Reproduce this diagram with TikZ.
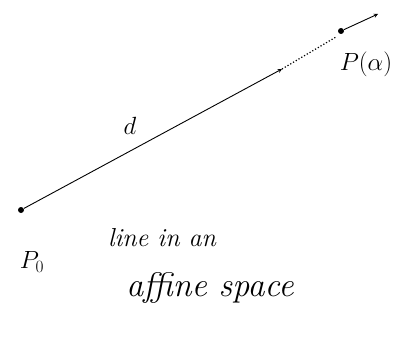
\documentclass[tikz,border=0pt]{standalone}
\usetikzlibrary{positioning}
\begin{document}
\begin{tikzpicture}[>=stealth, x=1pt, y=-1pt, line width=0.9pt]
\useasboundingbox (0,0) rectangle (410,337);
\tikzset{pt/.style={circle,fill,inner sep=0pt,minimum size=6pt},
  lbl/.style={font=\itshape\fontsize{26}{30}\selectfont}}
\node[pt] (p0) at (21,210) {};
\coordinate (tip) at (282,69);
\coordinate (dend) at (336,37);
\node[pt] (pa) at (341,31) {};
\coordinate (pv) at (378,14);
\draw[->] (p0)--(tip);
\draw[dotted,line width=1.2pt] (tip)--(dend);
\draw[->] (pa)--(pv);
\node[lbl] (d) at (130,126) {$d$};
\node[lbl] (pol) at (32,262) {$P_0$};
\node[lbl] (pal) at (366,64) {$P(\alpha)$};
\node[lbl] (txt1) at (162,238) {line in an};
\node[lbl,font=\itshape\fontsize{34}{38}\selectfont] (txt2) at (210,288) {affine space};
\end{tikzpicture}
\end{document}
